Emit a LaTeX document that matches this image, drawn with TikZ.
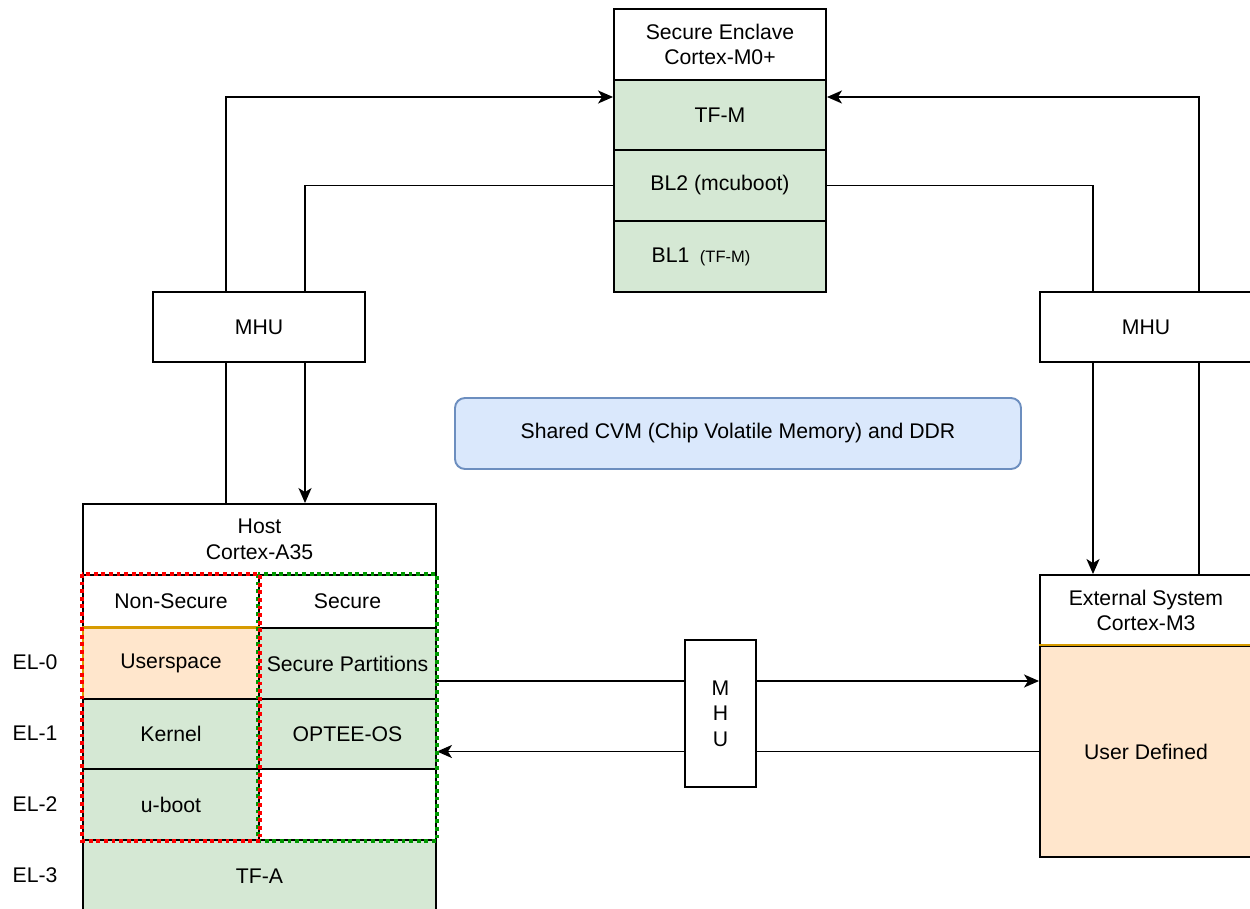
\documentclass[tikz,border=0pt]{standalone}
\usepackage{fontspec}
\setmainfont{Liberation Sans}
\usetikzlibrary{arrows.meta,backgrounds}
\definecolor{gfill}{HTML}{D5E8D4}
\definecolor{ofill}{HTML}{FFE6CC}
\definecolor{oline}{HTML}{D79B00}
\definecolor{bfill}{HTML}{DAE8FC}
\definecolor{bline}{HTML}{6C8EBF}
\definecolor{dgreen}{HTML}{009900}
\definecolor{dred}{HTML}{FF0000}
\begin{document}
\begin{tikzpicture}[x=1pt,y=-1pt,
  font=\fontsize{21.2}{25.5}\selectfont,
  cell/.style={draw=black, line width=1.9pt, inner sep=0pt, align=center, fill=white},
  gcell/.style={cell, fill=gfill},
  ocell/.style={cell, fill=ofill},
  conn/.style={draw=black, line width=1.9pt},
  arr/.style={conn, -{Stealth[length=15pt,width=13pt,inset=4pt]}},
  nsbox/.style={draw=dred, line width=4.5pt, dash pattern=on 3.8pt off 3.8pt},
  sbox/.style={draw=dgreen, line width=4.5pt, dash pattern=on 3.8pt off 3.8pt},
  ellabel/.style={inner sep=0pt, anchor=center}
]
\useasboundingbox (0,0) rectangle (1250,909);

% Secure enclave
\node[cell, minimum width=212pt, minimum height=71pt] (sehd) at (720,44.5) {Secure Enclave\\Cortex-M0+};
\node[gcell, minimum width=212pt, minimum height=70pt] (tfm) at (720,115) {TF-M};
\node[gcell, minimum width=212pt, minimum height=71pt] (bl2) at (720,185.5) {BL2 (mcuboot)};
\node[gcell, minimum width=212pt, minimum height=71pt] (bl1) at (720,256.5) {};
\node[inner sep=0pt] (bl1t) at (701,256.5) {BL1\hspace{0.5em}{\fontsize{16.5}{19}\selectfont (TF-M)}};

% MHUs
\node[cell, minimum width=212pt, minimum height=70pt] (lmhu) at (259,327) {MHU};
\node[cell, minimum width=212pt, minimum height=70pt] (rmhu) at (1146,327) {MHU};
\node[cell, minimum width=71pt, minimum height=147pt] (mmhu) at (720.5,713.5) {M\\H\\U};

% Shared memory
\node[draw=bline, fill=bfill, line width=1.9pt, rounded corners=10pt, minimum width=566pt, minimum height=71pt, inner sep=0pt] (cvm) at (738,433.5) {Shared CVM (Chip Volatile Memory) and DDR};

% Host
\node[cell, minimum width=353pt, minimum height=71pt] (hosthd) at (259.5,539.5) {Host\\Cortex-A35};
\node[cell, minimum width=176pt, minimum height=53pt] (ns) at (171,601.5) {Non-Secure};
\node[cell, minimum width=177pt, minimum height=53pt] (sec) at (347.5,601.5) {Secure};
\node[ocell, draw=oline, minimum width=176pt, minimum height=71pt] (user) at (171,663.5) {Userspace};
\node[gcell, minimum width=177pt, minimum height=71pt] (secpart) at (347.5,663.5) {Secure Partitions};
\node[gcell, minimum width=176pt, minimum height=70pt] (kernel) at (171,734) {Kernel};
\node[gcell, minimum width=177pt, minimum height=70pt] (optee) at (347.5,734) {OPTEE-OS};
\node[gcell, minimum width=176pt, minimum height=71pt] (uboot) at (171,804.5) {u-boot};
\node[cell, minimum width=177pt, minimum height=71pt] (empty) at (347.5,804.5) {};
\node[gcell, minimum width=353pt, minimum height=72pt] (tfa) at (259.5,876) {TF-A};
\draw[oline, line width=1.9pt] (user.north west) -- (user.north east);

% Security domains
\draw[sbox] (sec.north west) rectangle (empty.south east);
\draw[nsbox] (ns.north west) rectangle (uboot.south east);

% EL labels
\node[ellabel] (el0) at (35,662) {EL-0};
\node[ellabel] (el1) at (35,733) {EL-1};
\node[ellabel] (el2) at (35,804) {EL-2};
\node[ellabel] (el3) at (35,875) {EL-3};

% External system
\node[cell, minimum width=212pt, minimum height=71pt] (exthd) at (1146,610.5) {External System\\Cortex-M3};
\node[ocell, minimum width=212pt, minimum height=211pt] (ud) at (1146,751.5) {User Defined};
\draw[oline, line width=1.9pt] (ud.north west) -- (ud.north east);

% Connectors
\begin{scope}[on background layer]
\fill[white] (0,0) rectangle (1250,909);
\draw[arr] ([xshift=-33.5pt]hosthd.north) |- ([yshift=18pt]tfm.west);
\draw[arr] (bl2.west) -| ([xshift=45.5pt]hosthd.north);
\draw[arr] (bl2.east) -| ([xshift=-53pt]exthd.north);
\draw[arr] ([xshift=53pt]exthd.north) |- ([yshift=18pt]tfm.east);
\draw[arr] ([yshift=-17.5pt]secpart.east) -- ([yshift=-17.5pt]secpart.east -| ud.west);
\draw[arr] (ud.west) -- (ud.west -| optee.east);
\end{scope}
\end{tikzpicture}
\end{document}
